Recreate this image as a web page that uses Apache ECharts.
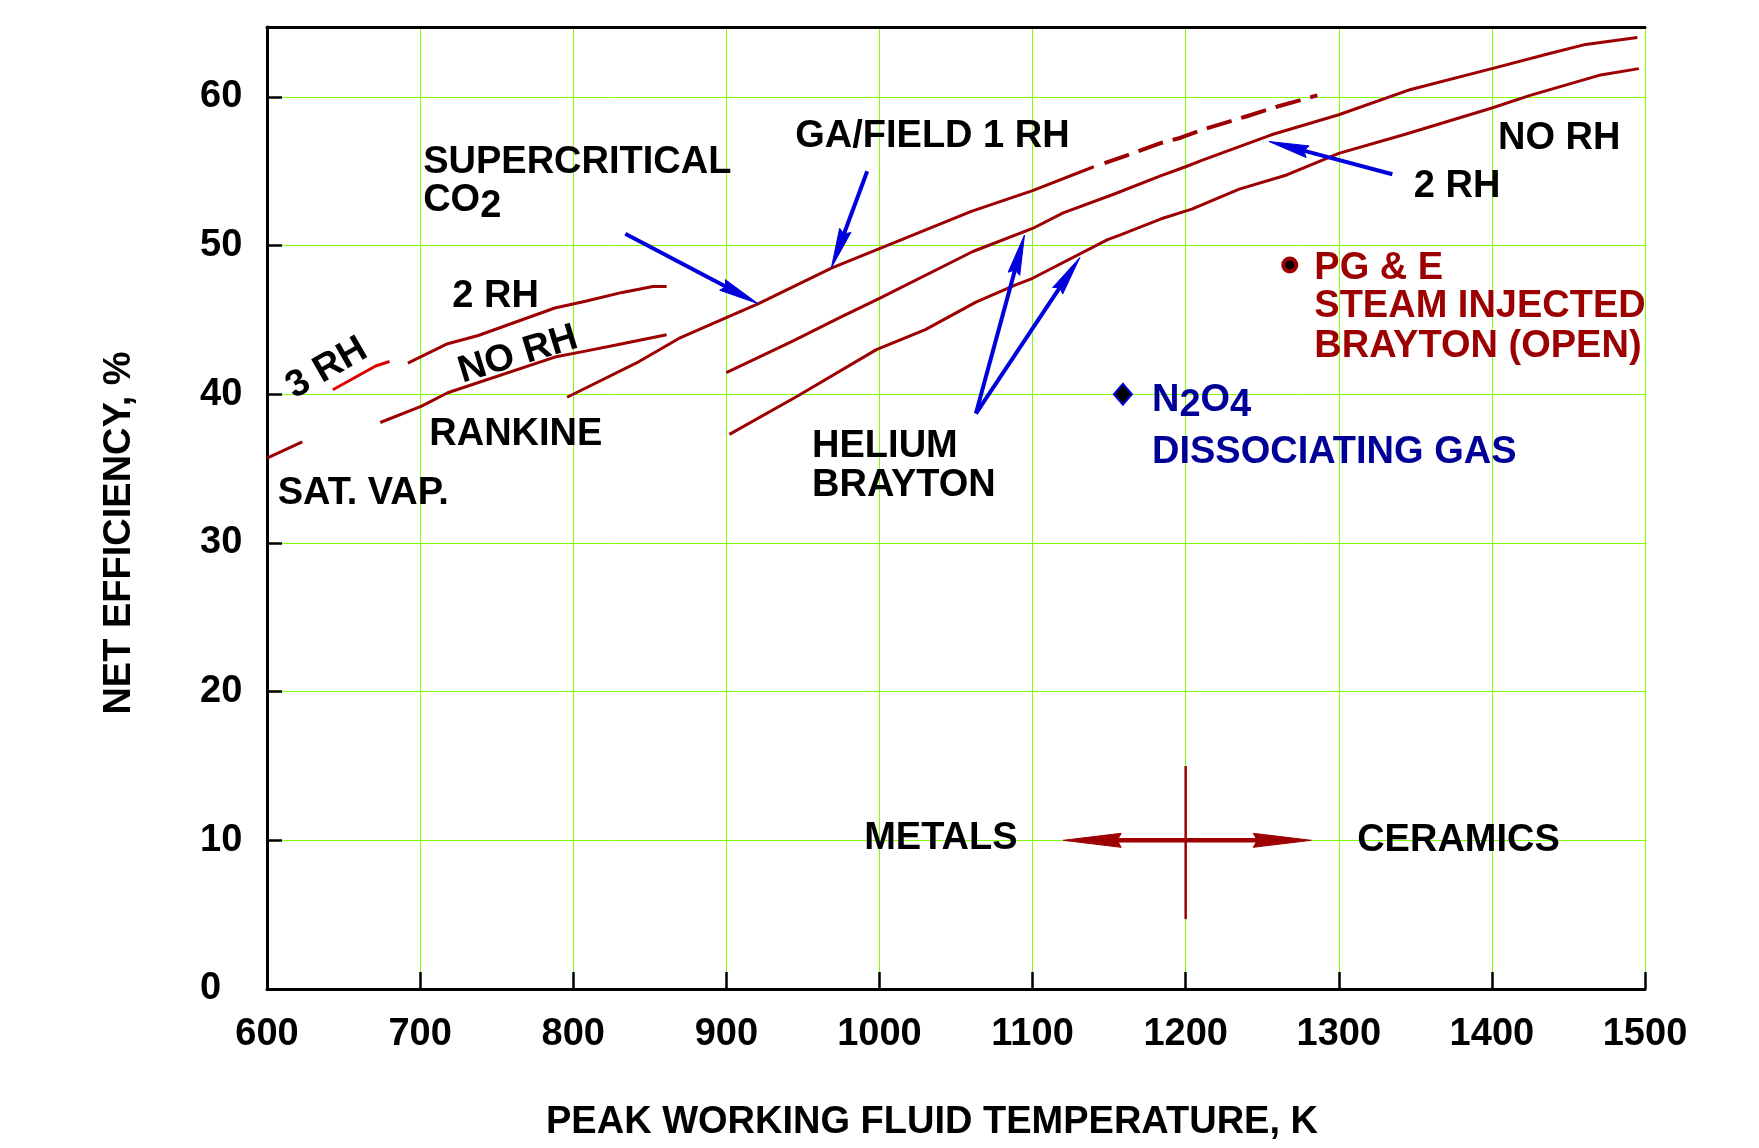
<!DOCTYPE html>
<html>
<head>
<meta charset="utf-8">
<script src="https://cdn.jsdelivr.net/npm/echarts@6/dist/echarts.min.js"></script>
<style>
html,body{margin:0;padding:0;background:#fff;}
#chart{width:1759px;height:1148px;}
</style>
</head>
<body>
<div id="chart"></div>
<script>
// ================= DATA =================
// axis ticks
const xTicks = [600, 700, 800, 900, 1000, 1100, 1200, 1300, 1400, 1500];
const yTicks = [0, 10, 20, 30, 40, 50, 60];

// Rankine cycle curves
const satVapT = [600, 623];
const satVapEff = [35.7, 36.8];
const rankine3RhT = [643, 671, 680];
const rankine3RhEff = [40.3, 41.9, 42.2];
const rankine2RhT = [692, 718, 738, 788, 808, 832, 852, 861];
const rankine2RhEff = [42.1, 43.4, 43.95, 45.8, 46.25, 46.85, 47.25, 47.25];
const rankineNoRhT = [674, 701, 718, 788, 808, 832, 861];
const rankineNoRhEff = [38.1, 39.2, 40.1, 42.5, 42.9, 43.4, 44.0];

// Supercritical CO2 / GA-Field 1 RH curve (solid) and its projection (dashed)
const co2GaT = [796, 843, 869, 900, 921, 969, 1000, 1060, 1100, 1140];
const co2GaEff = [39.8, 42.2, 43.75, 45.15, 46.1, 48.5, 49.8, 52.3, 53.7, 55.3];
const gaProjT = [1147, 1157, 1184, 1195, 1211, 1240, 1260, 1286];
const gaProjEff = [55.55, 55.9, 56.9, 57.2, 57.8, 58.7, 59.35, 60.1];

// Helium Brayton curves
const helium2RhT = [900, 943, 975, 1000, 1061, 1100, 1120, 1153, 1184, 1200, 1211, 1256, 1300, 1347, 1400, 1437, 1460, 1495];
const helium2RhEff = [41.45, 43.55, 45.2, 46.45, 49.6, 51.15, 52.2, 53.45, 54.7, 55.3, 55.75, 57.45, 58.8, 60.5, 61.9, 62.9, 63.5, 64.0];
const heliumNoRhT = [902, 946, 998, 1030, 1063, 1089, 1100, 1149, 1157, 1184, 1204, 1235, 1266, 1300, 1344, 1400, 1425, 1470, 1496];
const heliumNoRhEff = [37.3, 39.85, 43.0, 44.35, 46.2, 47.35, 47.8, 50.4, 50.7, 51.8, 52.45, 53.8, 54.75, 56.2, 57.5, 59.25, 60.1, 61.45, 61.9];

// single points
const pgeT = [1268];
const pgeEff = [48.7];
const n2o4T = [1159];
const n2o4Eff = [40];

// annotation texts and their anchors (temperature, efficiency)
const noteText = ['SUPERCRITICAL', 'CO2', 'GA/FIELD 1 RH', '2 RH', '3 RH', 'NO RH', 'RANKINE', 'SAT. VAP.',
  'HELIUM', 'BRAYTON', 'N2O4', 'DISSOCIATING GAS', 'NO RH', '2 RH', 'PG & E', 'STEAM INJECTED',
  'BRAYTON (OPEN)', 'METALS', 'CERAMICS'];
const noteT = [702, 702, 945, 721, 639, 764, 706, 607, 956, 956, 1178, 1178, 1404, 1349, 1284, 1284, 1284, 990, 1312];
const noteEff = [55.9, 53.35, 57.65, 46.93, 42.08, 42.98, 37.63, 33.63, 36.83, 34.18, 39.93, 36.42, 57.55, 54.28,
  48.76, 46.22, 43.56, 10.44, 10.29];

// pointer arrows (from -> to)
const arrowFromT = [834, 992, 1063, 1063, 1335];
const arrowFromEff = [50.8, 55.0, 38.7, 38.7, 54.8];
const arrowToT = [920.6, 968.6, 1094.7, 1130.9, 1254.4];
const arrowToEff = [46.1, 48.5, 50.7, 49.2, 57.0];

// metals / ceramics boundary marker
const boundaryT = [1200];
const boundaryEff = [4.7, 15];
const materialArrowT = [1120, 1282];
const materialArrowEff = [10];

// ================= STYLE =================
const FONT = '"Liberation Sans", Arial, Helvetica, sans-serif';
const DARK_RED = '#9c0000';
const RED = '#dd0000';
const BLUE = '#0000dd';
const NAVY = '#000099';
const GREEN = '#80ff00';
const TEXT_DROP = 5;

const noteLook = {
  4: { rotate: 30, align: 'center' },
  5: { rotate: 17, align: 'center' },
  10: { color: NAVY }, 11: { color: NAVY },
  14: { color: DARK_RED }, 15: { color: DARK_RED }, 16: { color: DARK_RED }
};

function pairs(xs, ys) { return xs.map((x, i) => [x, ys[i]]); }
function curve(name, xs, ys, color, width, dash) {
  return {
    name: name, type: 'line', data: pairs(xs, ys), symbol: 'none', showSymbol: false,
    smooth: false, silent: true, z: 3,
    lineStyle: { color: color, width: width, type: dash || 'solid', cap: 'butt', join: 'round' }
  };
}
function formula(t) { return t.replace(/([A-Z])(\d)/g, '$1{sub|$2}'); }

function head(tip, from, len, hw, color) {
  const dx = tip[0] - from[0], dy = tip[1] - from[1];
  const L = Math.hypot(dx, dy) || 1, ux = dx / L, uy = dy / L;
  const bx = tip[0] - ux * len, by = tip[1] - uy * len;
  return {
    type: 'polygon',
    shape: { points: [tip, [bx - uy * hw, by + ux * hw], [bx + ux * 4, by + uy * 4], [bx + uy * hw, by - ux * hw]] },
    style: { fill: color, stroke: color, lineWidth: 1 }
  };
}

const chart = echarts.init(document.getElementById('chart'), null, { renderer: 'canvas' });

const option = {
  animation: false,
  backgroundColor: '#fff',
  grid: { left: 267, right: 114, top: 27, bottom: 159, outerBoundsMode: 'none', containLabel: false },
  xAxis: [{
    type: 'value', position: 'bottom',
    min: xTicks[0], max: xTicks[xTicks.length - 1], interval: xTicks[1] - xTicks[0],
    name: 'PEAK WORKING FLUID TEMPERATURE, K', nameLocation: 'middle', nameGap: 115,
    nameTextStyle: { fontFamily: FONT, fontWeight: 'bold', fontSize: 38, color: '#000', padding: [0, 48, 0, 0] },
    axisLine: { show: true, onZero: false, lineStyle: { color: '#000', width: 3 } },
    axisTick: { show: true, inside: true, length: 17, lineStyle: { color: '#000', width: 2.5 } },
    axisLabel: {
      show: true, margin: 27, fontFamily: FONT, fontWeight: 'bold', fontSize: 38, color: '#000',
      formatter: function (v) { return String(v); }
    },
    splitLine: { show: true, lineStyle: { color: GREEN, width: 1 } }
  }, {
    type: 'value', position: 'top',
    min: xTicks[0], max: xTicks[xTicks.length - 1],
    axisLine: { show: true, onZero: false, lineStyle: { color: '#000', width: 3 } },
    axisTick: { show: false }, axisLabel: { show: false }, splitLine: { show: false }
  }],
  yAxis: {
    type: 'value', min: yTicks[0], max: 64.7, interval: yTicks[1] - yTicks[0],
    name: 'NET EFFICIENCY, %', nameLocation: 'middle', nameGap: 128, nameRotate: 90,
    nameTextStyle: { fontFamily: FONT, fontWeight: 'bold', fontSize: 38, color: '#000', padding: [0, 50, 0, 0] },
    axisLine: { show: true, onZero: false, lineStyle: { color: '#000', width: 3 } },
    axisTick: { show: true, inside: true, length: 15, lineStyle: { color: '#000', width: 2.5 } },
    axisLabel: {
      show: true, align: 'left', margin: 67, showMaxLabel: false, padding: [14, 0, 0, 0],
      fontFamily: FONT, fontWeight: 'bold', fontSize: 38, color: '#000',
      formatter: function (v) { return yTicks.indexOf(v) >= 0 ? String(v) : ''; }
    },
    splitLine: { show: true, lineStyle: { color: GREEN, width: 1 } }
  },
  series: [
    curve('Sat. vap.', satVapT, satVapEff, DARK_RED, 3),
    curve('Rankine 3 RH', rankine3RhT, rankine3RhEff, RED, 3),
    curve('Rankine 2 RH', rankine2RhT, rankine2RhEff, DARK_RED, 3),
    curve('Rankine no RH', rankineNoRhT, rankineNoRhEff, DARK_RED, 3),
    curve('Supercritical CO2 / GA', co2GaT, co2GaEff, DARK_RED, 3),
    curve('GA projection', gaProjT, gaProjEff, DARK_RED, 4, [26, 10]),
    curve('Helium 2 RH', helium2RhT, helium2RhEff, DARK_RED, 3),
    curve('Helium no RH', heliumNoRhT, heliumNoRhEff, DARK_RED, 3),
    {
      name: 'PG&E', type: 'scatter', data: pairs(pgeT, pgeEff), symbol: 'circle', symbolSize: 13, z: 5, silent: true,
      itemStyle: { color: '#000', borderColor: DARK_RED, borderWidth: 4, opacity: 1 }
    },
    {
      name: 'N2O4', type: 'scatter', data: pairs(n2o4T, n2o4Eff), symbol: 'diamond', symbolSize: [18, 21], z: 5, silent: true,
      itemStyle: { color: '#000', borderColor: BLUE, borderWidth: 2, opacity: 1 }
    },
    {
      name: 'arrows', type: 'custom', silent: true, clip: false, z: 6,
      data: arrowFromT.map((t, i) => [t, arrowFromEff[i], arrowToT[i], arrowToEff[i]]),
      encode: { x: [0, 2], y: [1, 3] },
      renderItem: function (params, api) {
        const a = api.coord([api.value(0), api.value(1)]);
        const b = api.coord([api.value(2), api.value(3)]);
        const dx = b[0] - a[0], dy = b[1] - a[1];
        const L = Math.hypot(dx, dy), ux = dx / L, uy = dy / L;
        const e = [b[0] - ux * 30, b[1] - uy * 30];
        return {
          type: 'group', children: [
            { type: 'line', shape: { x1: a[0], y1: a[1], x2: e[0], y2: e[1] }, style: { stroke: BLUE, lineWidth: 4, lineCap: 'butt' } },
            head(b, a, 40, 6, BLUE)
          ]
        };
      }
    },
    {
      name: 'materials', type: 'custom', silent: true, clip: false, z: 6,
      data: [[boundaryT[0], boundaryEff[0], boundaryEff[1], materialArrowT[0], materialArrowT[1], materialArrowEff[0]]],
      encode: { x: [0, 3, 4], y: [1, 2, 5] },
      renderItem: function (params, api) {
        const v0 = api.coord([api.value(0), api.value(1)]);
        const v1 = api.coord([api.value(0), api.value(2)]);
        const l = api.coord([api.value(3), api.value(5)]);
        const r = api.coord([api.value(4), api.value(5)]);
        return {
          type: 'group', children: [
            { type: 'line', shape: { x1: v0[0], y1: v0[1], x2: v1[0], y2: v1[1] }, style: { stroke: DARK_RED, lineWidth: 2.5 } },
            { type: 'line', shape: { x1: l[0] + 50, y1: l[1], x2: r[0] - 50, y2: r[1] }, style: { stroke: DARK_RED, lineWidth: 4.5 } },
            head(l, r, 58, 7, DARK_RED),
            head(r, l, 58, 7, DARK_RED)
          ]
        };
      }
    },
    {
      name: 'notes', type: 'custom', silent: true, clip: false, z: 7,
      data: noteT.map((t, i) => [t, noteEff[i], i]),
      encode: { x: 0, y: 1 },
      renderItem: function (params, api) {
        const i = api.value(2);
        const p = api.coord([api.value(0), api.value(1)]);
        const look = noteLook[i] || {};
        const align = look.align || 'left';
        return {
          type: 'text', x: p[0], y: p[1] + TEXT_DROP,
          rotation: (look.rotate || 0) * Math.PI / 180,
          style: {
            text: formula(noteText[i]),
            fill: look.color || '#000',
            font: 'bold 38px ' + FONT,
            align: align, textAlign: align,
            verticalAlign: 'middle', textVerticalAlign: 'middle',
            rich: { sub: { padding: [11, 0, 0, 0] } }
          }
        };
      }
    }
  ]
};
chart.setOption(option);
</script>
</body>
</html>
